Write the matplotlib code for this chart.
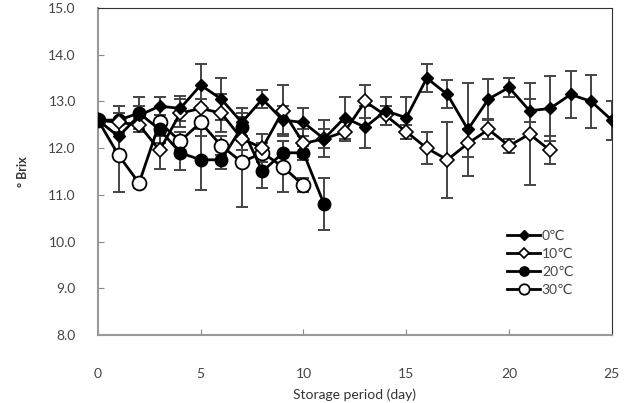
import numpy as np
import matplotlib
matplotlib.use('Agg')
import matplotlib.pyplot as plt

plt.rcParams['font.family'] = ['Lato', 'DejaVu Sans']

# Brix readings per storage temperature
days_0 = list(range(0, 26))
brix_0 = [12.6, 12.25, 12.7, 12.9, 12.85, 13.35, 13.05, 12.55, 13.05, 12.6, 12.55, 12.2, 12.65,
          12.45, 12.8, 12.65, 13.5, 13.15, 12.4, 13.05, 13.3, 12.8, 12.85, 13.15, 13.0, 12.6]
err_0 = [0, 0.3, 0.2, 0.2, 0.27, 0.45, 0.45, 0.3, 0.2, 0.3, 0.3, 0.2, 0.45,
         0.45, 0.3, 0.45, 0.3, 0.3, 1.0, 0.42, 0.2, 0.25, 0.7, 0.5, 0.57, 0.42]

days_10 = list(range(0, 23))
brix_10 = [12.6, 12.55, 12.5, 11.95, 12.75, 12.85, 12.75, 12.2, 12.0, 12.8, 12.1, 12.2,
           12.35, 13.0, 12.7, 12.35, 12.0, 11.75, 12.1, 12.4, 12.05, 12.3, 11.95]
err_10 = [0, 0.2, 0.15, 0.4, 0.3, 0.2, 0.4, 0.25, 0.3, 0.55, 0.3, 0.4,
          0.2, 0.35, 0.2, 0.15, 0.35, 0.82, 0.3, 0.2, 0.15, 1.1, 0.3]

days_20 = list(range(0, 12))
brix_20 = [12.6, 12.6, 12.75, 12.4, 11.9, 11.75, 11.75, 12.45, 11.5, 11.9, 11.9, 10.8]
err_20 = [0, 0.3, 0.35, 0.3, 0.37, 0.65, 0.2, 0.3, 0.35, 0.25, 0.15, 0.55]

days_30 = list(range(0, 11))
brix_30 = [12.6, 11.85, 11.25, 12.55, 12.15, 12.55, 12.05, 11.7, 11.9, 11.6, 11.2]
err_30 = [0, 0.8, 0.1, 0.3, 0.2, 0.3, 0.2, 0.97, 0.2, 0.55, 0.15]

labels = ['0℃', '10℃', '20℃', '30℃']

fig = plt.figure(figsize=(6.32, 4.03), dpi=100)
ax = fig.add_axes([0.155, 0.169, 0.813, 0.811])

ecol = '#444444'
# error bars first
for d, b, e in [(days_0, brix_0, err_0), (days_10, brix_10, err_10),
                (days_20, brix_20, err_20), (days_30, brix_30, err_30)]:
    ax.errorbar(d, b, yerr=e, fmt='none', ecolor=ecol, elinewidth=1.4, capsize=4, capthick=1.4, zorder=1)

ax.plot(days_30, brix_30, '-o', color='black', lw=2, ms=10, mfc='white', mec='black', mew=1.3, label=labels[3], zorder=3)
ax.plot(days_20, brix_20, '-o', color='black', lw=2, ms=9, mfc='black', label=labels[2], zorder=4)
ax.plot(days_10, brix_10, '-D', color='black', lw=2, ms=7, mfc='white', mec='black', mew=1.2, label=labels[1], zorder=5)
ax.plot(days_0, brix_0, '-D', color='black', lw=2, ms=6.5, mfc='black', label=labels[0], zorder=6)

ax.set_xlim(0, 25)
ax.set_ylim(8, 15)
ax.set_xticks([0, 5, 10, 15, 20, 25])
ax.set_yticks(np.arange(8, 15.1, 1))
ax.set_yticklabels(['%.1f' % v for v in np.arange(8, 15.1, 1)])
ax.tick_params(axis='both', direction='in', length=4, color='#888888', labelcolor='#444444', labelsize=10)
ax.tick_params(axis='x', pad=24)
ax.tick_params(axis='y', pad=16)

for s in ['left', 'bottom']:
    ax.spines[s].set_color('#999999')
    ax.spines[s].set_linewidth(1.5)
for s in ['top', 'right']:
    ax.spines[s].set_color('#333333')
    ax.spines[s].set_linewidth(0.8)

ax.set_ylabel('° Brix', fontsize=9, fontweight='bold', color='#333333', labelpad=14)
ax.set_xlabel('Storage period (day)', fontsize=10, color='#333333', labelpad=6)

h, l = ax.get_legend_handles_labels()
order = [3, 2, 1, 0]
leg = ax.legend([h[i] for i in order], [l[i] for i in order], loc='lower right',
                bbox_to_anchor=(0.95, 0.08), frameon=False, fontsize=10, markerscale=0.75,
                handlelength=2.4, labelspacing=0.45, handletextpad=0.1)
for t in leg.get_texts():
    t.set_color('#444444')

plt.savefig('out.png', dpi=100)
plt.close()
